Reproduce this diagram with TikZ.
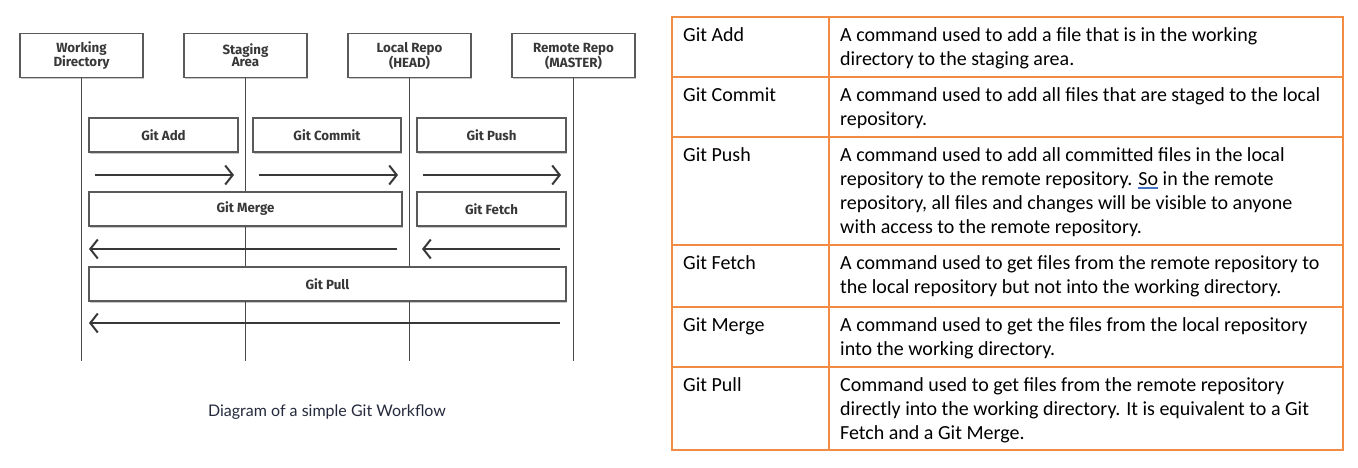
\documentclass[tikz,border=0pt]{standalone}
\usepackage{fontspec}
\setmainfont{Carlito}
\newfontfamily\diagfont{Fira Sans}
\newfontfamily\capfont{Lato}
\usetikzlibrary{arrows.meta,shadows}
\definecolor{tblorange}{HTML}{F28C45}
\definecolor{boxgray}{HTML}{5A5A5A}
\definecolor{txtgray}{HTML}{383838}
\definecolor{linegray}{HTML}{4A4A4A}
\definecolor{capcol}{HTML}{262A3D}
\definecolor{ulblue}{HTML}{4472C4}
\newcommand\cellt[1]{\vtop{\baselineskip=24pt\lineskiplimit=-100pt\halign{##\hfil\cr#1\crcr}}}
\newcommand\grul[1]{\vtop{\hbox{#1}\kern1.6pt{\color{ulblue}\hrule height 0.7pt\kern1.0pt\hrule height 0.7pt}}}
\newcommand\twol[2]{\rule{0pt}{10.5pt}#1\\#2\rule[-1pt]{0pt}{1pt}}
\tikzset{
  sbox/.style={draw=boxgray, line width=1.1pt, fill=white, inner sep=0pt, align=center,
    text=txtgray, font=\diagfont\bfseries\fontsize{13.3}{12.5}\selectfont,
    drop shadow={shadow xshift=1.2pt, shadow yshift=-1.8pt, opacity=0.22, fill=black}},
  hdr/.style={sbox, minimum width=123pt, minimum height=44pt},
  cmd/.style={sbox, minimum height=34pt},
  life/.style={draw=linegray, line width=0.9pt},
  flow/.style={draw=txtgray, line width=2pt, -{Straight Barb[length=7.5pt,width=19pt,line width=2pt]}},
  tline/.style={draw=tblorange, line width=1.6pt},
  ttext/.style={anchor=base west, inner sep=0pt, font=\fontsize{20}{24}\selectfont, text=black}
}
\begin{document}
\begin{tikzpicture}[x=1pt,y=-1pt]
\useasboundingbox[fill=white] (0,0) rectangle (1358,467);

% lifelines endpoints
\coordinate (wdE) at (81.5,361);
\coordinate (saE) at (245.5,361);
\coordinate (lrE) at (409.5,361);
\coordinate (rrE) at (573.5,361);

% headers
\node[hdr] (wd) at (81.5,55.5) {\twol{Working}{Directory}};
\node[hdr] (sa) at (245.5,55.5) {\twol{Staging}{Area}};
\node[hdr] (lr) at (409.5,55.5) {\twol{Local Repo}{(HEAD)}};
\node[hdr] (rr) at (573.5,55.5) {\twol{Remote Repo}{(MASTER)}};

\draw[life] (wd.south) -- (wdE);
\draw[life] (sa.south) -- (saE);
\draw[life] (lr.south) -- (lrE);
\draw[life] (rr.south) -- (rrE);

% command boxes
\node[cmd, minimum width=149pt] (add) at (163.5,135) {Git Add};
\node[cmd, minimum width=148pt] (commit) at (327,135) {Git Commit};
\node[cmd, minimum width=149pt] (push) at (491.5,135) {Git Push};
\node[cmd, minimum width=313pt] (merge) at (245.5,209) {Git Merge};
\node[cmd, minimum width=149pt] (fetch) at (491.5,209) {Git Fetch};
\node[cmd, minimum width=477pt] (pull) at (327.5,284) {Git Pull};

% arrows
\coordinate (a1s) at (95,175);  \coordinate (a1e) at (234,175);
\coordinate (a2s) at (259,175); \coordinate (a2e) at (398,175);
\coordinate (a3s) at (423,175); \coordinate (a3e) at (561,175);
\coordinate (b1s) at (397,249); \coordinate (b1e) at (89,249);
\coordinate (b2s) at (560,249); \coordinate (b2e) at (422,249);
\coordinate (c1s) at (560,323); \coordinate (c1e) at (89,323);
\draw[flow] (a1s) -- (a1e);
\draw[flow] (a2s) -- (a2e);
\draw[flow] (a3s) -- (a3e);
\draw[flow] (b1s) -- (b1e);
\draw[flow] (b2s) -- (b2e);
\draw[flow] (c1s) -- (c1e);

% caption
\node[font=\capfont\fontsize{16}{19}\selectfont, text=capcol, inner sep=0pt] (cap) at (327,412) {Diagram of a simple Git Workflow};

% table
\draw[tline] (672,17) rectangle (1343,450);
\draw[tline] (829,17) -- (829,450);
\foreach \yy in {77,137,245,307,367} \draw[tline] (672,\yy) -- (1343,\yy);

\node[ttext] (k1) at (683,41) {Git Add};
\node[ttext] (k2) at (683,101) {Git Commit};
\node[ttext] (k3) at (683,161) {Git Push};
\node[ttext] (k4) at (683,269) {Git Fetch};
\node[ttext] (k5) at (683,331) {Git Merge};
\node[ttext] (k6) at (683,391) {Git Pull};

\node[ttext] (d1) at (840,41) {\cellt{A command used to add a file that is in the working\cr directory to the staging area.}};
\node[ttext] (d2) at (840,101) {\cellt{A command used to add all files that are staged to the local\cr repository.}};
\node[ttext] (d3) at (840,161) {\cellt{A command used to add all committed files in the local\cr repository to the remote repository. \grul{So} in the remote\cr repository, all files and changes will be visible to anyone\cr with access to the remote repository.}};
\node[ttext] (d4) at (840,269) {\cellt{A command used to get files from the remote repository to\cr the local repository but not into the working directory.}};
\node[ttext] (d5) at (840,331) {\cellt{A command used to get the files from the local repository\cr into the working directory.}};
\node[ttext] (d6) at (840,391) {\cellt{Command used to get files from the remote repository\cr directly into the working directory. It is equivalent to a Git\cr Fetch and a Git Merge.}};
\end{tikzpicture}
\end{document}
